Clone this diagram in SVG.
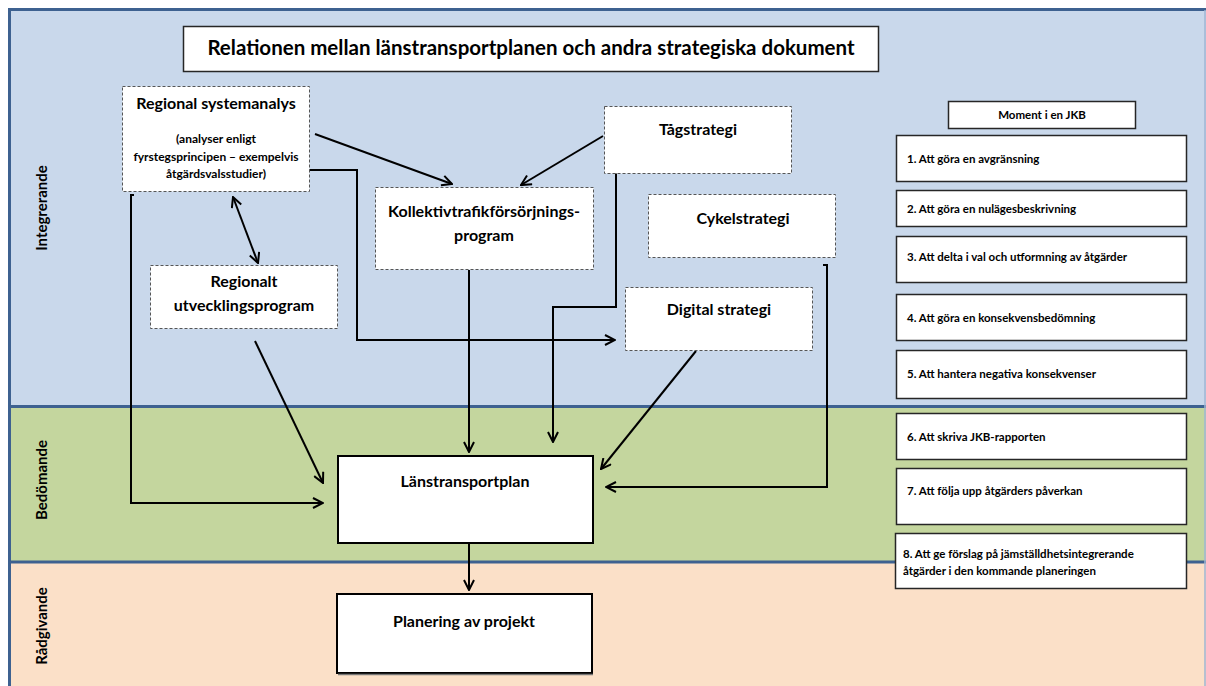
<svg xmlns="http://www.w3.org/2000/svg" width="1206" height="686" viewBox="0 0 1206 686">
  <defs>
    <marker id="arr" viewBox="0 0 12 12" refX="11" refY="6" markerWidth="12" markerHeight="12" markerUnits="userSpaceOnUse" orient="auto-start-reverse">
      <path d="M1,1 L11,6 L1,11" fill="none" stroke="#000" stroke-width="2"/>
    </marker>
  </defs>
  <style>
    text { font-family: Lato, "Liberation Sans", sans-serif; font-weight: bold; fill: #000; }
    .dash { fill: #fff; stroke: #555; stroke-width: 1; stroke-dasharray: 3 2; }
    .solid { fill: #fff; stroke: #000; stroke-width: 2; }
    .step { fill: #fff; stroke: #262626; stroke-width: 1.5; }
    .conn { fill: none; stroke: #000; stroke-width: 2; }
    .head { marker-end: url(#arr); }
    .both { marker-start: url(#arr); marker-end: url(#arr); }
    .t15 { font-size: 16px; text-anchor: middle; }
    .t11 { font-size: 12px; text-anchor: middle; }
    .t10 { font-size: 11.5px; }
    .side { font-size: 15px; text-anchor: middle; }
    .band-line { stroke: #3D6190; stroke-width: 3; }
  </style>

  <!-- background bands -->
  <rect x="0" y="0" width="1206" height="686" fill="#fff"/>
  <rect x="9" y="9" width="1197" height="398" fill="#C9D8EB"/>
  <rect x="9" y="407" width="1197" height="155" fill="#C4D69E"/>
  <rect x="9" y="562" width="1197" height="124" fill="#FBE0C8"/>
  <line class="band-line" x1="9" y1="9.5" x2="1206" y2="9.5"/>
  <line class="band-line" x1="9.5" y1="8" x2="9.5" y2="686"/>
  <line class="band-line" x1="9" y1="406.5" x2="1206" y2="406.5"/>
  <line class="band-line" x1="9" y1="562" x2="1206" y2="562"/>
  <line x1="1205" y1="10" x2="1205" y2="686" stroke="#9FB6D3" stroke-width="1.5"/>

  <!-- band labels -->
  <text class="side" transform="translate(47,208) rotate(-90)">Integrerande</text>
  <text class="side" transform="translate(47,480) rotate(-90)">Bedömande</text>
  <text class="side" transform="translate(47,626) rotate(-90)">Rådgivande</text>

  <!-- connectors -->
  <g id="connectors">
    <line class="conn head" x1="315" y1="134" x2="452" y2="184"/>
    <line class="conn head" x1="603" y1="136" x2="521" y2="185"/>
    <line class="conn both" x1="233" y1="197" x2="258" y2="263"/>
    <polyline class="conn head" points="134,195 131,195 131,503 323,503"/>
    <polyline class="conn head" points="309,170 357,170 357,340 615,340"/>
    <line class="conn head" x1="255" y1="341" x2="323" y2="483"/>
    <line class="conn head" x1="469" y1="270" x2="469" y2="452"/>
    <polyline class="conn head" points="616,172 616,307 553,307 553,442"/>
    <line class="conn head" x1="696" y1="351" x2="601" y2="469"/>
    <polyline class="conn head" points="823,265 827,265 827,487 606,487"/>
    <line class="conn head" x1="469" y1="543" x2="469" y2="590"/>
  </g>

  <!-- title -->
  <g id="title">
    <rect class="step" x="183.5" y="26.5" width="695" height="45" stroke="#000"/>
    <text x="531" y="55" font-size="20.5" text-anchor="middle">Relationen mellan länstransportplanen och andra strategiska dokument</text>
  </g>

  <!-- strategic documents -->
  <g id="regional-systemanalys">
    <rect class="dash" x="122.5" y="86.5" width="187" height="105"/>
    <text class="t15" x="216" y="109">Regional systemanalys</text>
    <text class="t11" x="216" y="143">(analyser enligt</text>
    <text class="t11" x="216" y="161">fyrstegsprincipen – exempelvis</text>
    <text class="t11" x="216" y="178">åtgärdsvalsstudier)</text>
  </g>
  <g id="tagstrategi">
    <rect class="dash" x="604.5" y="106.5" width="187" height="67"/>
    <text class="t15" x="698" y="135">Tågstrategi</text>
  </g>
  <g id="kollektivtrafik">
    <rect class="dash" x="375.5" y="187.5" width="218" height="82"/>
    <text class="t15" x="484" y="217">Kollektivtrafikförsörjnings-</text>
    <text class="t15" x="484" y="241">program</text>
  </g>
  <g id="cykelstrategi">
    <rect class="dash" x="648.5" y="194.5" width="187" height="63"/>
    <text class="t15" x="743" y="224">Cykelstrategi</text>
  </g>
  <g id="regionalt-utvecklingsprogram">
    <rect class="dash" x="150.5" y="265.5" width="187" height="63"/>
    <text class="t15" x="244" y="287">Regionalt</text>
    <text class="t15" x="244" y="311">utvecklingsprogram</text>
  </g>
  <g id="digital-strategi">
    <rect class="dash" x="625.5" y="287.5" width="187" height="63"/>
    <text class="t15" x="719" y="315">Digital strategi</text>
  </g>
  <g id="lanstransportplan">
    <rect class="solid" x="338" y="456" width="255" height="87"/>
    <text class="t15" x="465" y="487">Länstransportplan</text>
  </g>
  <g id="planering">
    <rect class="solid" x="337" y="594" width="255" height="79" stroke-width="1.5"/>
    <line x1="338" y1="674.5" x2="593" y2="674.5" stroke="#777" stroke-width="1.5"/>
    <text class="t15" x="464" y="627">Planering av projekt</text>
  </g>

  <!-- JKB steps -->
  <g id="moment">
    <rect class="step" x="948.5" y="101.5" width="187" height="27"/>
    <text class="t10" x="1042" y="119" text-anchor="middle">Moment i en JKB</text>
  </g>
  <g id="steg1">
    <rect class="step" x="896.5" y="135.5" width="290" height="46"/>
    <text class="t10" x="907" y="163">1. Att göra en avgränsning</text>
  </g>
  <g id="steg2">
    <rect class="step" x="896.5" y="190.5" width="290" height="36"/>
    <text class="t10" x="907" y="213">2. Att göra en nulägesbeskrivning</text>
  </g>
  <g id="steg3">
    <rect class="step" x="896.5" y="236.5" width="290" height="46"/>
    <text class="t10" x="907" y="261">3. Att delta i val och utformning av åtgärder</text>
  </g>
  <g id="steg4">
    <rect class="step" x="896.5" y="294.5" width="290" height="46"/>
    <text class="t10" x="907" y="322">4. Att göra en konsekvensbedömning</text>
  </g>
  <g id="steg5">
    <rect class="step" x="896.5" y="350.5" width="290" height="48"/>
    <text class="t10" x="907" y="378">5. Att hantera negativa konsekvenser</text>
  </g>
  <g id="steg6">
    <rect class="step" x="896.5" y="413.5" width="290" height="46"/>
    <text class="t10" x="907" y="441">6. Att skriva JKB-rapporten</text>
  </g>
  <g id="steg7">
    <rect class="step" x="896.5" y="468.5" width="290" height="56"/>
    <text class="t10" x="907" y="495">7. Att följa upp åtgärders påverkan</text>
  </g>
  <g id="steg8">
    <rect class="step" x="895.5" y="533.5" width="291" height="55"/>
    <text class="t10" x="903" y="558">8. Att ge förslag på jämställdhetsintegrerande</text>
    <text class="t10" x="903" y="575">åtgärder i den kommande planeringen</text>
  </g>
</svg>
